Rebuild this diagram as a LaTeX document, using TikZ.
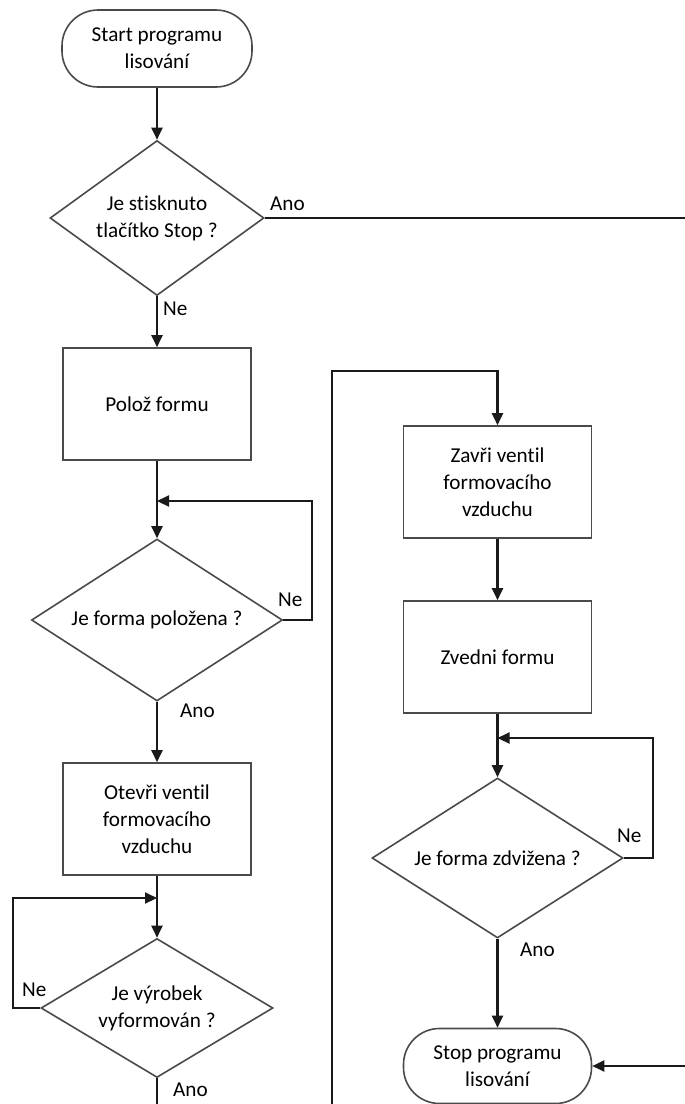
\documentclass[tikz,border=0pt]{standalone}
\usepackage{fontspec}
\setmainfont{Carlito}[Ligatures={NoCommon}]
\usetikzlibrary{shapes.geometric,arrows.meta}

\definecolor{outline}{HTML}{4A4A4A}
\definecolor{wire}{HTML}{1A1A1A}

\tikzset{
  base/.style={draw=outline, line width=1.6pt, fill=white, align=center,
    font=\fontsize{21.2}{27}\selectfont, inner sep=0pt},
  terminal/.style={base, rectangle, rounded corners=36pt},
  process/.style={base, rectangle, minimum width=188pt, minimum height=112pt},
  decision/.style={base, diamond},
  flow/.style={draw=wire, line width=2.1pt,
    -{Triangle[width=11pt,length=12pt]}},
  wireonly/.style={draw=wire, line width=2.1pt},
  lbl/.style={font=\fontsize{21.2}{27}\selectfont, inner sep=0pt, anchor=west}
}

\begin{document}
\begin{tikzpicture}[x=1pt, y=-1pt]
  \useasboundingbox (0,0) rectangle (685,1104);

  % left column
  \node[terminal, minimum width=190pt, minimum height=77pt] (start) at (157,48.5)
    {Start programu\\lisování};
  \node[decision, minimum width=214pt, minimum height=155pt, aspect=1.38] (d1) at (157,218)
    {Je stisknuto\\tlačítko Stop ?};
  \node[process] (poloz) at (157,404) {Polož formu};
  \node[decision, minimum width=251pt, minimum height=162pt, aspect=1.55] (d2) at (157,620)
    {Je forma položena ?};
  \node[process] (otevri) at (157,819) {Otevři ventil\\formovacího\\vzduchu};
  \node[decision, minimum width=232pt, minimum height=139pt, aspect=1.67] (d3) at (157,1008)
    {Je výrobek\\vyformován ?};

  % right column
  \node[process] (zavri) at (497.5,482) {Zavři ventil\\formovacího\\vzduchu};
  \node[process] (zvedni) at (497.5,657) {Zvedni formu};
  \node[decision, minimum width=251pt, minimum height=160pt, aspect=1.57] (d4) at (497.5,858)
    {Je forma zdvižena ?};
  \node[terminal, minimum width=188pt, minimum height=75pt] (stop) at (497.5,1066)
    {Stop programu\\lisování};

  % junction points of the waiting loops
  \coordinate (j2) at (157,501);
  \coordinate (j3) at (157,898);
  \coordinate (j4) at (497.5,738);
  % routes continuing past the page edges
  \coordinate (offright) at (710,218);
  \coordinate (offbelow) at (157,1140);
  \coordinate (back) at (332,1140);
  \coordinate (backtop) at (332,371);

  % main flow
  \draw[flow] (start) -- (d1);
  \draw[flow] (d1) -- (poloz);
  \draw[flow] (poloz) -- (d2);
  \draw[flow] (d2) -- (otevri);
  \draw[flow] (otevri) -- (d3);
  \draw[wireonly] (d3.south) -- (offbelow);
  \draw[flow] (d1.east) -- (offright) |- (stop.east);
  \draw[flow] (back) -- (backtop) -| (zavri.north);
  \draw[flow] (zavri) -- (zvedni);
  \draw[flow] (zvedni) -- (d4);
  \draw[flow] (d4) -- (stop);

  % waiting loops
  \draw[flow] (d2.east) -- ++(29,0) |- (j2);
  \draw[flow] (d3.west) -- (13,1008) |- (j3);
  \draw[flow] (d4.east) -- ++(29,0) |- (j4);

  % branch labels
  \node[lbl] (l1a) at (270,204) {Ano};
  \node[lbl] (l1n) at (163,309) {Ne};
  \node[lbl] (l2n) at (278,600) {Ne};
  \node[lbl] (l2a) at (180,711) {Ano};
  \node[lbl] (l3n) at (22,990) {Ne};
  \node[lbl] (l3a) at (173,1090) {Ano};
  \node[lbl] (l4n) at (617,836) {Ne};
  \node[lbl] (l4a) at (520,950) {Ano};
\end{tikzpicture}
\end{document}
